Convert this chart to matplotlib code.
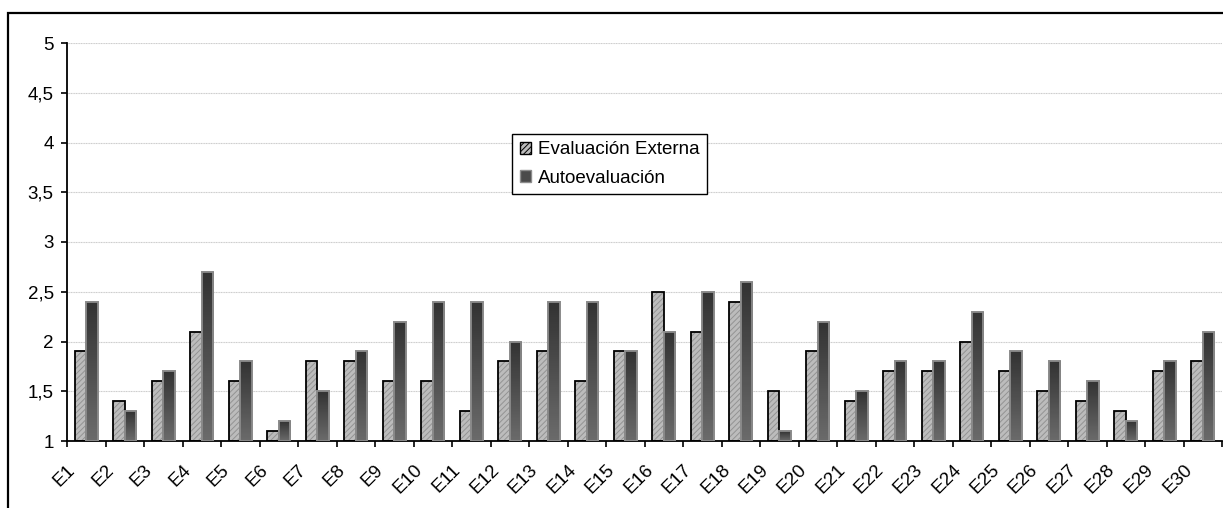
import numpy as np
import matplotlib
matplotlib.use("Agg")
import matplotlib.pyplot as plt
from matplotlib.patches import Rectangle
from matplotlib.transforms import ScaledTranslation

plt.rcParams["font.family"] = ["Liberation Sans", "DejaVu Sans"]
plt.rcParams["hatch.linewidth"] = 0.7

categories = [f"E{i}" for i in range(1, 31)]
externa = [1.9, 1.4, 1.6, 2.1, 1.6, 1.1, 1.8, 1.8, 1.6, 1.6,
           1.3, 1.8, 1.9, 1.6, 1.9, 2.5, 2.1, 2.4, 1.5, 1.9,
           1.4, 1.7, 1.7, 2.0, 1.7, 1.5, 1.4, 1.3, 1.7, 1.8]
auto = [2.4, 1.3, 1.7, 2.7, 1.8, 1.2, 1.5, 1.9, 2.2, 2.4,
        2.4, 2.0, 2.4, 2.4, 1.9, 2.1, 2.5, 2.6, 1.1, 2.2,
        1.5, 1.8, 1.8, 2.3, 1.9, 1.8, 1.6, 1.2, 1.8, 2.1]
yticks = [1, 1.5, 2, 2.5, 3, 3.5, 4, 4.5, 5]
ytick_labels = ["1", "1,5", "2", "2,5", "3", "3,5", "4", "4,5", "5"]

BASE = 1.0
W = 0.3

fig = plt.figure(figsize=(12.23, 5.08), dpi=100)
ax = fig.add_axes([67 / 1223, 1 - 441 / 508, 1155 / 1223, 398 / 508])

x = np.arange(len(categories))

# series 1: hatched light gray with black outline
ext_vals = np.array(externa) - BASE
ax.bar(x - W / 2, ext_vals, W, bottom=BASE, color="#bcbcbc",
       edgecolor="#939393", hatch="//////", linewidth=0, zorder=2)
ax.bar(x - W / 2, ext_vals, W, bottom=BASE, fill=False,
       edgecolor="black", linewidth=1.3, zorder=3)

# series 2: dark vertical gradient
auto_vals = np.array(auto) - BASE
bars2 = ax.bar(x + W / 2, auto_vals, W, bottom=BASE, color="#4a4a4a",
               edgecolor="#8c8c8c", linewidth=1.3, zorder=3)
grad = np.linspace(0.42, 0.20, 64).reshape(-1, 1)
for b in bars2:
    bx, by = b.get_x(), b.get_y()
    im = ax.imshow(grad, cmap="gray", vmin=0, vmax=1, aspect="auto",
                   origin="lower",
                   extent=(bx, bx + b.get_width(), by, by + b.get_height()),
                   zorder=3.5)
    im.set_clip_path(b)
ax.bar(x + W / 2, auto_vals, W, bottom=BASE, fill=False,
       edgecolor="#8c8c8c", linewidth=1.3, zorder=4)
ax.set_xlim(-0.5, len(categories) - 0.5)
ax.set_ylim(1, 5)

# axes styling
for s in ["top", "right"]:
    ax.spines[s].set_visible(False)
ax.spines["left"].set_linewidth(1.3)
ax.spines["bottom"].set_linewidth(1.3)
ax.set_yticks(yticks)
ax.set_yticklabels(ytick_labels, fontsize=13.5)
ax.yaxis.grid(True, color="#cccccc", linewidth=0.8, linestyle=(0, (1, 0.5)))
ax.set_axisbelow(True)
ax.tick_params(axis="y", length=4.5, width=1.2, direction="out", pad=5)

ax.set_xticks(x - 0.5)
ax.set_xticklabels(categories, rotation=45, ha="right", fontsize=13.5)
ax.set_xticks([len(categories) - 0.5], minor=True)
ax.tick_params(axis="x", which="both", length=4.5, width=1.2,
               direction="out", pad=10)
offset = ScaledTranslation(0.12, 0, fig.dpi_scale_trans)
for lbl in ax.get_xticklabels():
    lbl.set_transform(lbl.get_transform() + offset)

# legend
leg = ax.legend([plt.Rectangle((0, 0), 1, 1, facecolor="#bcbcbc",
                               edgecolor="black", hatch="//////"),
                 plt.Rectangle((0, 0), 1, 1, facecolor="#4a4a4a",
                               edgecolor="#8c8c8c")],
                ["Evaluación Externa", "Autoevaluación"],
                loc="upper left", bbox_to_anchor=(512 / 1223, 1 - 134 / 508),
                bbox_transform=fig.transFigure, fontsize=13.5,
                fancybox=False, framealpha=1, edgecolor="black",
                handlelength=0.6, handleheight=0.6, handletextpad=0.4,
                borderpad=0.4, labelspacing=0.6, borderaxespad=0)
leg.get_frame().set_linewidth(1.0)

# outer chart frame (cropped on right and bottom)
fig.patches.append(Rectangle((8 / 1223, -0.1), 1.2, 1.1 - 13 / 508,
                             transform=fig.transFigure, fill=False,
                             edgecolor="black", linewidth=1.6))

fig.savefig("out.png", dpi=100)
